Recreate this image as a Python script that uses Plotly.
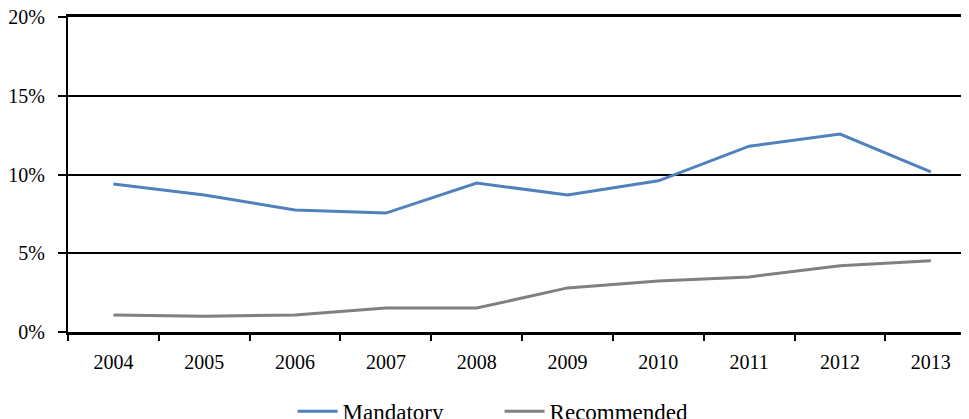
import plotly.graph_objects as go

years = ["2004", "2005", "2006", "2007", "2008", "2009", "2010", "2011", "2012", "2013"]
mandatory = [9.4, 8.7, 7.75, 7.55, 9.46, 8.7, 9.6, 11.8, 12.57, 10.17]
recommended = [1.08, 1.0, 1.08, 1.52, 1.52, 2.8, 3.24, 3.5, 4.2, 4.53]
y_ticks = [0, 5, 10, 15, 20]
y_tick_labels = ["0%", "5%", "10%", "15%", "20%"]

FONT = "Liberation Serif"

fig = go.Figure()
fig.add_trace(go.Scatter(x=years, y=mandatory, mode="lines", name="Mandatory",
                         line=dict(color="#4F81BD", width=3)))
fig.add_trace(go.Scatter(x=years, y=recommended, mode="lines", name="Recommended",
                         line=dict(color="#808080", width=3)))

# page body has an 8px margin, so the figure is sized to end at the window edges
fig.update_layout(
    template="none",
    width=961, height=411,
    margin=dict(l=60, r=0, t=9, b=87, autoexpand=False),
    paper_bgcolor="white", plot_bgcolor="white",
    font=dict(family=FONT, size=20, color="black"),
    showlegend=True,
    legend=dict(orientation="h", x=0.479, xanchor="center", y=-0.252, yanchor="middle",
                font=dict(family=FONT, size=23, color="black"), itemwidth=40,
                entrywidth=152, tracegroupgap=0),
    xaxis=dict(type="category", range=[-0.5, 9.42], showgrid=False, automargin=False,
               showline=True, linecolor="black", linewidth=2.5, mirror=True,
               ticks="outside", tickson="boundaries", ticklen=6, tickwidth=2,
               tickcolor="black", ticklabelstandoff=10, zeroline=False,
               fixedrange=True),
    yaxis=dict(range=[0, 20], tickvals=y_ticks, ticktext=y_tick_labels, automargin=False,
               ticklabeloverflow="allow",
               showgrid=True, gridcolor="black", gridwidth=1.5,
               showline=True, linecolor="black", linewidth=2,
               ticks="outside", ticklen=8, tickwidth=1.5, tickcolor="black",
               ticklabelstandoff=9, zeroline=False, fixedrange=True),
)

fig.write_html("out.html")
